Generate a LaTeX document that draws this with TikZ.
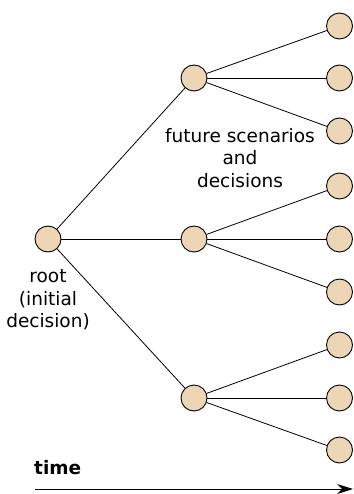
\documentclass[tikz,border=0pt]{standalone}
\usepackage{fontspec}
\setmainfont{DejaVu Sans}
\usetikzlibrary{arrows.meta}
\definecolor{nodefill}{RGB}{237,214,182}
\begin{document}
\begin{tikzpicture}[x=1pt,y=-1pt,
  dnode/.style={circle,draw=black,fill=nodefill,line width=0.9pt,minimum size=26pt,inner sep=0pt},
  edge/.style={draw=black,line width=0.8pt},
  lbl/.style={align=center,font=\fontsize{18.5}{22.5}\selectfont,inner sep=0pt}]
\useasboundingbox (0,0) rectangle (353,494);
\node[dnode] (r) at (48,239) {};
\node[dnode] (m1) at (194,78) {};
\node[dnode] (m2) at (194,239) {};
\node[dnode] (m3) at (194,398) {};
\node[dnode] (l1) at (339.5,26) {};
\node[dnode] (l2) at (339.5,78) {};
\node[dnode] (l3) at (339.5,131) {};
\node[dnode] (l4) at (339.5,186) {};
\node[dnode] (l5) at (339.5,239) {};
\node[dnode] (l6) at (339.5,292) {};
\node[dnode] (l7) at (339.5,345) {};
\node[dnode] (l8) at (339.5,398) {};
\node[dnode] (l9) at (339.5,450) {};
\foreach \m in {m1,m2,m3} \draw[edge] (r) -- (\m);
\foreach \l in {l1,l2,l3} \draw[edge] (m1) -- (\l);
\foreach \l in {l4,l5,l6} \draw[edge] (m2) -- (\l);
\foreach \l in {l7,l8,l9} \draw[edge] (m3) -- (\l);
\node[lbl] (rl) at (48,300) {root\\(initial\\decision)};
\node[lbl] (fl) at (240,158) {future scenarios\\and\\decisions};
\node[lbl,font=\fontsize{18.5}{22.5}\selectfont\bfseries,anchor=west] (tl) at (34,468) {time};
\coordinate (a0) at (35,489);
\coordinate (a1) at (353,489);
\draw[edge,-{Stealth[length=16pt,width=10pt]}] (a0) -- (a1);
\end{tikzpicture}
\end{document}
